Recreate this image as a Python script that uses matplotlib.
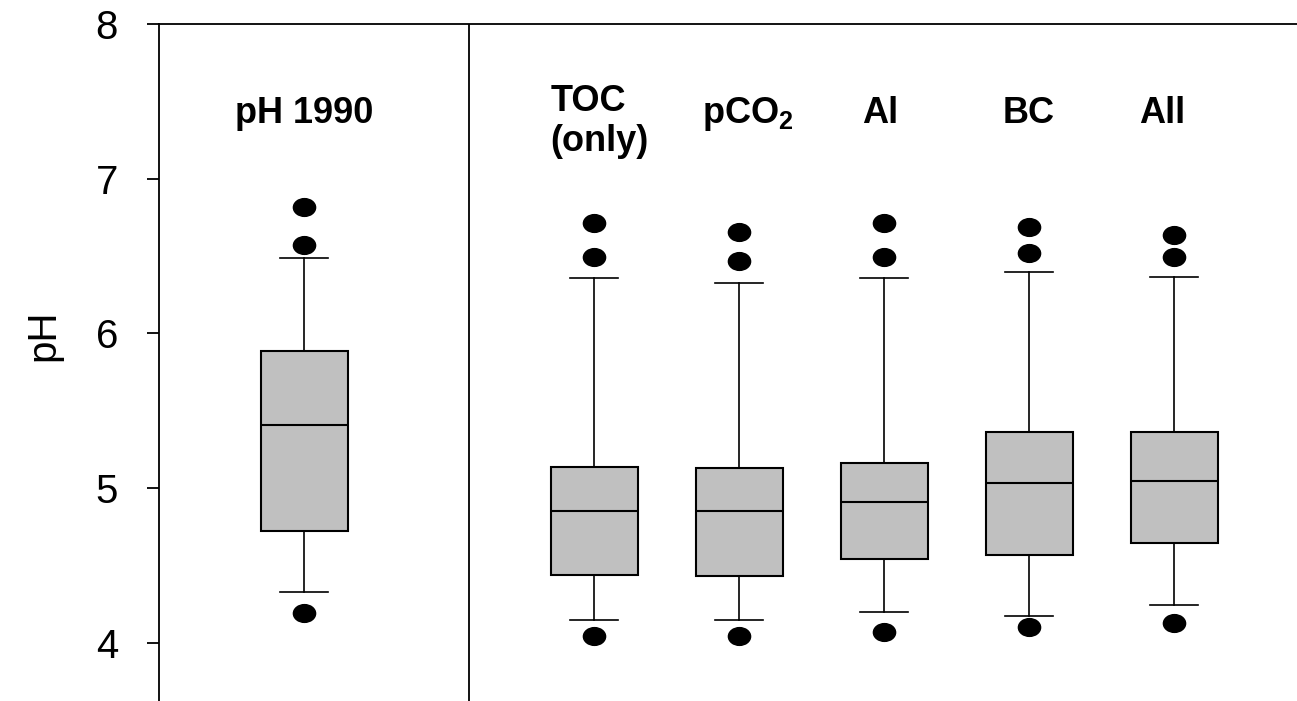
import numpy as np
import matplotlib
matplotlib.use("Agg")
import matplotlib.pyplot as plt
from matplotlib.path import Path
from matplotlib.transforms import Affine2D

plt.rcParams['font.family'] = ['Liberation Sans', 'DejaVu Sans']
plt.rcParams['mathtext.fontset'] = 'custom'
plt.rcParams['mathtext.rm'] = 'Liberation Sans'
plt.rcParams['mathtext.bf'] = 'Liberation Sans:bold'

# data
labels = ['pH 1990', 'TOC\n(only)', 'pCO$_\\mathbf{2}$', 'Al', 'BC', 'All']
positions = [0, 2, 3, 4, 5, 6]
med = [5.41, 4.855, 4.853, 4.911, 5.036, 5.049]
q1 = [4.726, 4.439, 4.435, 4.543, 4.571, 4.646]
q3 = [5.885, 5.135, 5.129, 5.161, 5.365, 5.365]
whislo = [4.332, 4.149, 4.149, 4.200, 4.176, 4.246]
whishi = [6.490, 6.361, 6.328, 6.361, 6.399, 6.367]
fliers = [[6.816, 6.570, 4.196],
          [6.712, 6.496, 4.047],
          [6.654, 6.469, 4.047],
          [6.712, 6.496, 4.069],
          [6.690, 6.520, 4.105],
          [6.637, 6.496, 4.127]]

stats = []
for i in range(len(labels)):
    stats.append(dict(med=med[i], q1=q1[i], q3=q3[i], whislo=whislo[i],
                      whishi=whishi[i], fliers=fliers[i]))

# slightly flattened dot for the outliers
circ = Path.unit_circle()
dot = Affine2D().scale(1.0, 0.8).transform_path(circ)

fig = plt.figure(figsize=(12.97, 7.01), dpi=100)
ax = fig.add_axes([159/1297, 0, 1 - 159/1297, 1 - 24/701])

ax.bxp(stats, positions=positions, widths=0.6, capwidths=0.33,
       patch_artist=True, showfliers=True,
       boxprops=dict(facecolor='#c0c0c0', edgecolor='black', linewidth=1.5),
       medianprops=dict(color='black', linewidth=1.5),
       whiskerprops=dict(color='black', linewidth=1.2),
       capprops=dict(color='black', linewidth=1.2),
       flierprops=dict(marker=dot, markersize=16, markerfacecolor='black',
                       markeredgecolor='black', linestyle='none'))

ax.axvline(1.14, color='black', linewidth=1.3)

ax.set_xlim(-1, 6.848)
ax.set_ylim(3.625, 8)
ax.set_yticks([4, 5, 6, 7, 8])
ax.tick_params(axis='y', direction='out', length=8.6, width=1.3,
               labelsize=29, pad=21)
ax.set_xticks([])
ax.spines['right'].set_visible(False)
ax.spines['bottom'].set_visible(False)
ax.spines['left'].set_linewidth(1.3)
ax.spines['top'].set_linewidth(1.3)

ax.set_ylabel('pH', fontsize=29)
ax.yaxis.set_label_coords(-0.085, 0.54)

# group labels
fs = 26
ax.text(0, 7.36, labels[0], ha='center', va='baseline', fontsize=fs, fontweight='bold')
ax.text(1.70, 7.44, 'TOC', ha='left', va='baseline', fontsize=fs, fontweight='bold')
ax.text(1.70, 7.18, '(only)', ha='left', va='baseline', fontsize=fs, fontweight='bold')
ax.text(3.06, 7.36, labels[2], ha='center', va='baseline', fontsize=fs, fontweight='bold')
ax.text(3.97, 7.36, labels[3], ha='center', va='baseline', fontsize=fs, fontweight='bold')
ax.text(5.0, 7.36, labels[4], ha='center', va='baseline', fontsize=fs, fontweight='bold')
ax.text(5.92, 7.36, labels[5], ha='center', va='baseline', fontsize=fs, fontweight='bold')

fig.savefig('out.png', dpi=100)
